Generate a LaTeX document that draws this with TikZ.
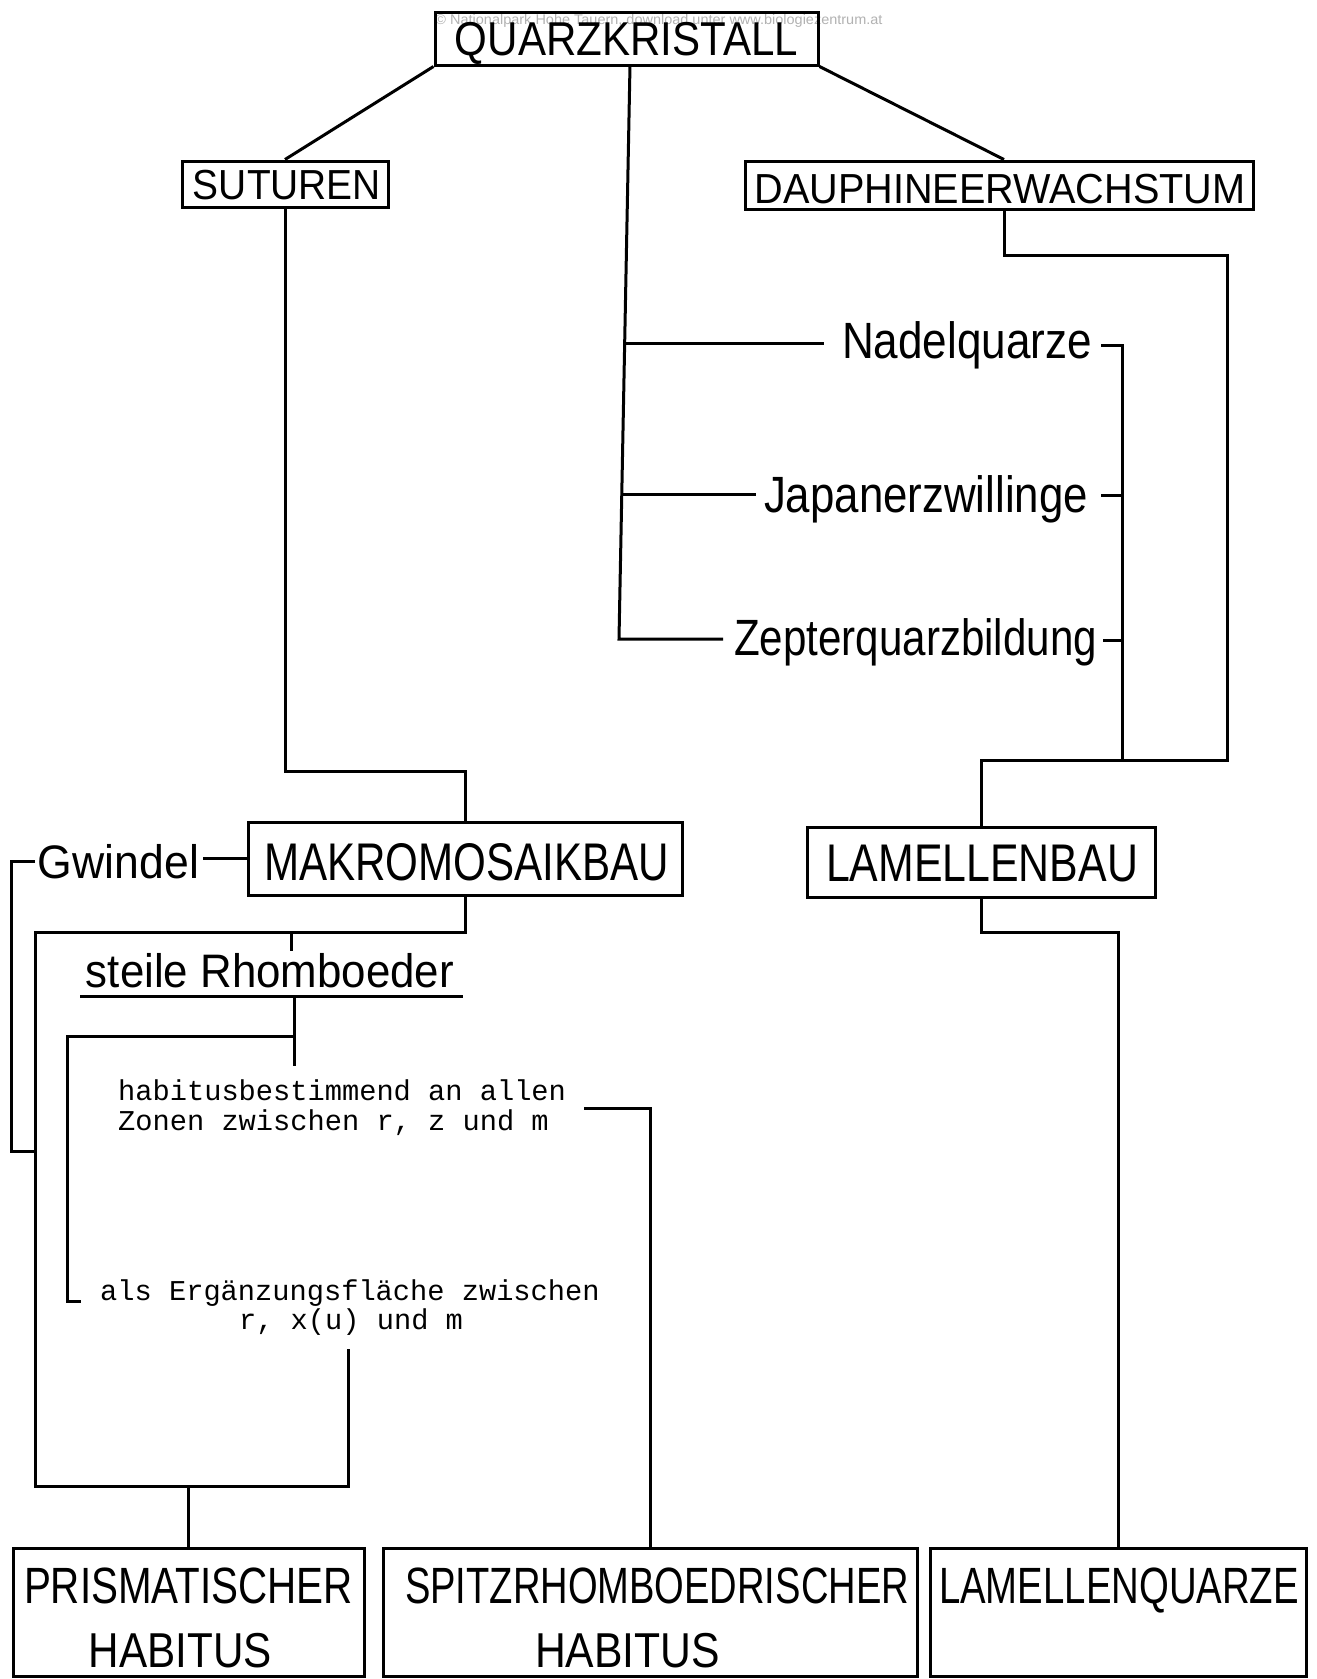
\documentclass[tikz,border=0pt]{standalone}
\usepackage{fontspec}
\setmainfont{Liberation Sans}
\newfontfamily\monof{Liberation Mono}
\usetikzlibrary{calc}
\newcommand\fitw[2]{\resizebox{#1pt}{\height}{#2}}
\newcommand\fsz[1]{\fontsize{#1}{#1}\selectfont}
\begin{document}
\begin{tikzpicture}[x=1pt,y=-1pt,
  bx/.style={draw, line width=3pt, inner sep=0pt},
  lbl/.style={inner sep=0pt, anchor=base},
  mono/.style={inner sep=0pt, font=\monof\fsz{28.7}},
  con/.style={line width=3pt, line join=miter}]
\fill[white] (0,0) rectangle (1317,1679);
\path[use as bounding box] (0,0) rectangle (1317,1679);

% watermark
\node[lbl, text=black!30] (wm) at (659,24) {\fsz{14}\fitw{447}{© Nationalpark Hohe Tauern, download unter www.biologiezentrum.at}};

% boxes
\node[bx, minimum width=383pt, minimum height=53pt] (q) at (626.5,38.5) {};
\node[bx, minimum width=206pt, minimum height=46pt] (sut) at (285,184) {};
\node[bx, minimum width=508pt, minimum height=48pt] (dau) at (999,185) {};
\node[bx, minimum width=434pt, minimum height=73pt] (mak) at (465,858.5) {};
\node[bx, minimum width=348pt, minimum height=70pt] (lam) at (981,862) {};
\node[bx, minimum width=351pt, minimum height=128pt] (pris) at (188.5,1612) {};
\node[bx, minimum width=534pt, minimum height=128pt] (spitz) at (650,1612) {};
\node[bx, minimum width=376pt, minimum height=128pt] (lamq) at (1118,1612) {};

% box texts
\node[lbl] (qt) at (626.5,55.5) {\fsz{47.5}\fitw{343}{QUARZKRISTALL}};
\node[lbl] (sutt) at (287,199) {\fsz{42}\fitw{188}{SUTUREN}};
\node[lbl] (daut) at (1000,203) {\fsz{42}\fitw{491}{DAUPHINEERWACHSTUM}};
\node[lbl] (makt) at (466.5,880) {\fsz{53}\fitw{405}{MAKROMOSAIKBAU}};
\node[lbl] (lamt) at (982,881) {\fsz{53}\fitw{312}{LAMELLENBAU}};
\node[lbl] (prist) at (188.5,1603) {\fsz{51}\fitw{329}{PRISMATISCHER}};
\node[lbl] (hab1) at (180.5,1667) {\fsz{49}\fitw{183}{HABITUS}};
\node[lbl] (spitzt) at (657,1603) {\fsz{51}\fitw{504}{SPITZRHOMBOEDRISCHER}};
\node[lbl] (hab2) at (627.5,1667) {\fsz{49}\fitw{185}{HABITUS}};
\node[lbl] (lamqt) at (1119,1603) {\fsz{51}\fitw{360}{LAMELLENQUARZE}};

% free labels
\node[lbl] (nt) at (967,358) {\fsz{51}\fitw{250}{Nadelquarze}};
\node[lbl] (jt) at (926,512) {\fsz{51}\fitw{324}{Japanerzwillinge}};
\node[lbl] (zt) at (915.5,655) {\fsz{51}\fitw{363}{Zepterquarzbildung}};
\node[lbl] (gw) at (118.5,878) {\fsz{47}\fitw{161}{Gwindel}};
\node[lbl] (st) at (270,987) {\fsz{47}\fitw{368}{steile Rhomboeder}};

\node[mono, anchor=base west] (h1) at (118,1100) {habitusbestimmend an allen};
\node[mono, anchor=base west] (h2) at (118,1130) {Zonen zwischen r, z und m};
\node[mono, anchor=base west] (e1) at (100,1300) {als Ergänzungsfläche zwischen};
\node[mono, anchor=base] (e2) at (351,1329) {r, x(u) und m};

% connectors
\draw[con] (q.south west) -- (sut.north);
\draw[con] (q.south east) -- ($(dau.north)+(5,0)$);
\coordinate (tN) at (624,343);
\coordinate (tJ) at (622,494);
\coordinate (tZ) at (619,639);
\draw[con] (630,65) -- (tZ) -- (723,639);
\draw[con] (tN) -- (824,343);
\draw[con] (tJ) -- (756,494);
\coordinate (rv) at (1122,760);
\draw[con] (1101,345) -- (1122,345) -- (rv);
\draw[con] (1101,495) -- (1122,495);
\draw[con] (1103,640) -- (1122,640);
\draw[con] ($(dau.south)+(5,0)$) -- (1004,255) -- (1227,255) -- (1227,760) -- (981,760) -- (lam.north);

\draw[con] (sut.south) -- (285,771) -- (465,771) -- (mak.north);
\draw[con] (203,858.5) -- (mak.west);
\draw[con] (35,861) -- (11,861) -- (11,1151) -- (35,1151);
\draw[con] (mak.south) -- (465,932) -- (35,932) -- (35,1486) -- (348,1486) -- (348,1349);
\draw[con] (291,932) -- (291,951);
\draw[con] (188.5,1486) -- (pris.north);

\draw[con] (80,996) -- (463,996);
\draw[con] (294,996) -- (294,1066);
\draw[con] (294,1036) -- (67,1036) -- (67,1301) -- (81,1301);

\draw[con] (584,1108) -- (650,1108) -- (spitz.north);
\draw[con] (lam.south) -- (981,932) -- (1118,932) -- (lamq.north);
\end{tikzpicture}
\end{document}
